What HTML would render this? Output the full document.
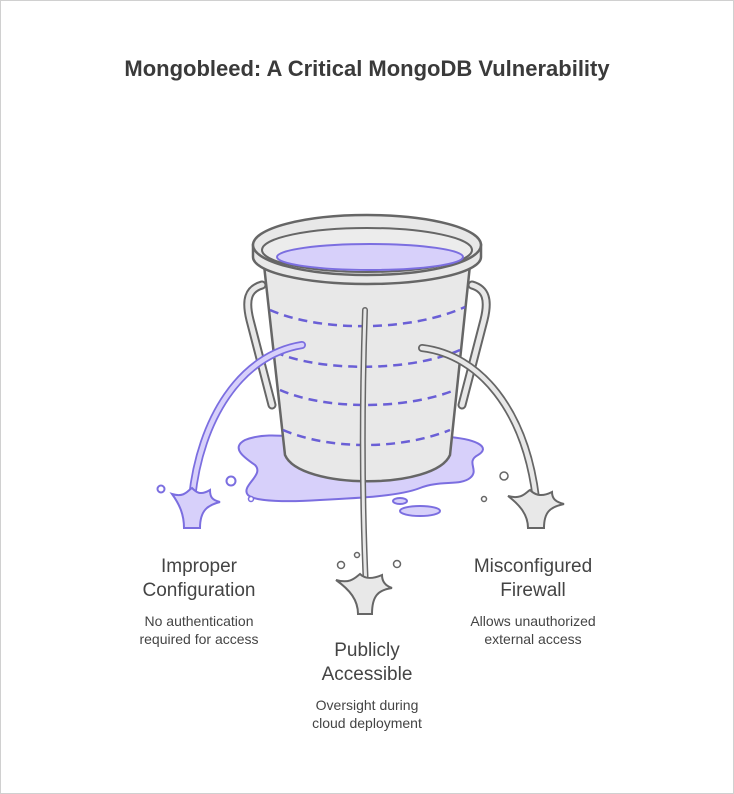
<!DOCTYPE html>
<html><head><meta charset="utf-8"><style>
html,body{margin:0;padding:0;background:#fff}
body{width:734px;height:794px;overflow:hidden;position:relative;font-family:"Liberation Sans",sans-serif}
.frame{position:absolute;left:0;top:0;width:732px;height:792px;border:1px solid #d0d0d0}
</style></head><body><div class="frame"></div>
<svg width="734" height="794" viewBox="0 0 734 794" style="position:absolute;left:0;top:0">
<text x="367" y="76" text-anchor="middle" font-family="Liberation Sans, sans-serif" font-weight="bold" font-size="22" fill="#3a3a3a">Mongobleed: A Critical MongoDB Vulnerability</text>
<!-- puddle -->
<path d="M245,440 C270,430 300,440 320,437 C360,430 420,432 450,437 C480,440 490,448 478,455 C465,462 480,470 470,478 C460,486 440,480 420,488 C400,496 360,498 320,500 C290,502 255,502 248,495 C240,486 265,475 255,465 C245,458 230,448 245,440 Z" fill="#d7d0fa" stroke="#7b6ee0" stroke-width="2"/>
<ellipse cx="420" cy="511" rx="20" ry="5" fill="#d7d0fa" stroke="#7b6ee0" stroke-width="2"/>
<ellipse cx="400" cy="501" rx="7" ry="3" fill="#d7d0fa" stroke="#7b6ee0" stroke-width="2"/>
<!-- handles -->
<path d="M262,285 C248,289 245,300 250,320 L272,405" fill="none" stroke="#666" stroke-width="9" stroke-linecap="round"/>
<path d="M262,285 C248,289 245,300 250,320 L272,405" fill="none" stroke="#e8e8e8" stroke-width="5" stroke-linecap="round"/>
<path d="M472,285 C486,289 489,300 484,320 L462,405" fill="none" stroke="#666" stroke-width="9" stroke-linecap="round"/>
<path d="M472,285 C486,289 489,300 484,320 L462,405" fill="none" stroke="#e8e8e8" stroke-width="5" stroke-linecap="round"/>
<!-- body -->
<path d="M264,265 L285,455 C300,490 435,490 450,455 L470,265 Z" fill="#e8e8e8" stroke="#666" stroke-width="2.5"/>
<g fill="none" stroke="#6a5fd6" stroke-width="2.5" stroke-dasharray="9,6">
<path d="M270,310 C320,332 410,332 465,307"/>
<path d="M275,352 C320,372 410,372 460,350"/>
<path d="M280,390 C325,410 405,410 455,390"/>
<path d="M283,430 C330,450 400,450 450,430"/>
</g>
<!-- rim -->
<path d="M253,245 L253,257 A114,27 0 0 0 481,257 L481,245 Z" fill="#e8e8e8" stroke="#666" stroke-width="2.5"/>
<ellipse cx="367" cy="245" rx="114" ry="30" fill="#e8e8e8" stroke="#666" stroke-width="2.5"/>
<ellipse cx="367" cy="250" rx="105" ry="22" fill="#ececec" stroke="#666" stroke-width="2"/>
<ellipse cx="370" cy="257" rx="93" ry="13" fill="#d7d0fa" stroke="#7b6ee0" stroke-width="2"/>
<!-- left stream -->
<path d="M302,345 C240,355 200,420 192,498" fill="none" stroke="#7b6ee0" stroke-width="8" stroke-linecap="round"/>
<path d="M302,345 C240,355 200,420 192,498" fill="none" stroke="#d7d0fa" stroke-width="4.5" stroke-linecap="round"/>
<path d="M172,494 C185,498 188,490 192,488 C196,492 200,496 210,490 C210,497 212,500 220,502 C208,505 200,510 200,528 L184,528 C184,515 180,505 172,494 Z" fill="#d7d0fa" stroke="#7b6ee0" stroke-width="2"/>
<circle cx="161" cy="489" r="3.5" fill="#fff" stroke="#7b6ee0" stroke-width="2"/>
<circle cx="231" cy="481" r="4.5" fill="#fff" stroke="#7b6ee0" stroke-width="2"/>
<circle cx="251" cy="499" r="2.5" fill="#fff" stroke="#7b6ee0" stroke-width="1.5"/>
<!-- center stream -->
<path d="M365,310 C362,400 362,500 366,588" fill="none" stroke="#666" stroke-width="6" stroke-linecap="round"/>
<path d="M365,310 C362,400 362,500 366,588" fill="none" stroke="#e8e8e8" stroke-width="3" stroke-linecap="round"/>
<path d="M336,580 C350,584 355,578 360,574 C364,578 370,580 382,575 C382,582 386,586 392,588 C378,590 372,596 372,614 L358,614 C358,600 350,590 336,580 Z" fill="#e8e8e8" stroke="#666" stroke-width="2"/>
<circle cx="341" cy="565" r="3.5" fill="#fff" stroke="#666" stroke-width="1.5"/>
<circle cx="357" cy="555" r="2.5" fill="#fff" stroke="#666" stroke-width="1.5"/>
<circle cx="397" cy="564" r="3.5" fill="#fff" stroke="#666" stroke-width="1.5"/>
<!-- right stream -->
<path d="M422,348 C480,355 525,410 536,498" fill="none" stroke="#666" stroke-width="8" stroke-linecap="round"/>
<path d="M422,348 C480,355 525,410 536,498" fill="none" stroke="#e8e8e8" stroke-width="4.5" stroke-linecap="round"/>
<path d="M508,496 C522,500 526,492 530,490 C534,494 540,498 552,492 C552,499 556,502 564,504 C550,507 544,512 544,528 L528,528 C528,515 520,505 508,496 Z" fill="#e8e8e8" stroke="#666" stroke-width="2"/>
<circle cx="504" cy="476" r="4" fill="#fff" stroke="#666" stroke-width="1.5"/>
<circle cx="484" cy="499" r="2.5" fill="#fff" stroke="#666" stroke-width="1.5"/>
<!-- labels -->
<g font-family="Liberation Sans, sans-serif" fill="#444" text-anchor="middle">
<text x="199" y="572" font-size="19">Improper</text>
<text x="199" y="596" font-size="19">Configuration</text>
<text x="199" y="626" font-size="14">No authentication</text>
<text x="199" y="644" font-size="14">required for access</text>
<text x="367" y="656" font-size="19">Publicly</text>
<text x="367" y="680" font-size="19">Accessible</text>
<text x="367" y="710" font-size="14">Oversight during</text>
<text x="367" y="728" font-size="14">cloud deployment</text>
<text x="533" y="572" font-size="19">Misconfigured</text>
<text x="533" y="596" font-size="19">Firewall</text>
<text x="533" y="626" font-size="14">Allows unauthorized</text>
<text x="533" y="644" font-size="14">external access</text>
</g>
</svg></body></html>
